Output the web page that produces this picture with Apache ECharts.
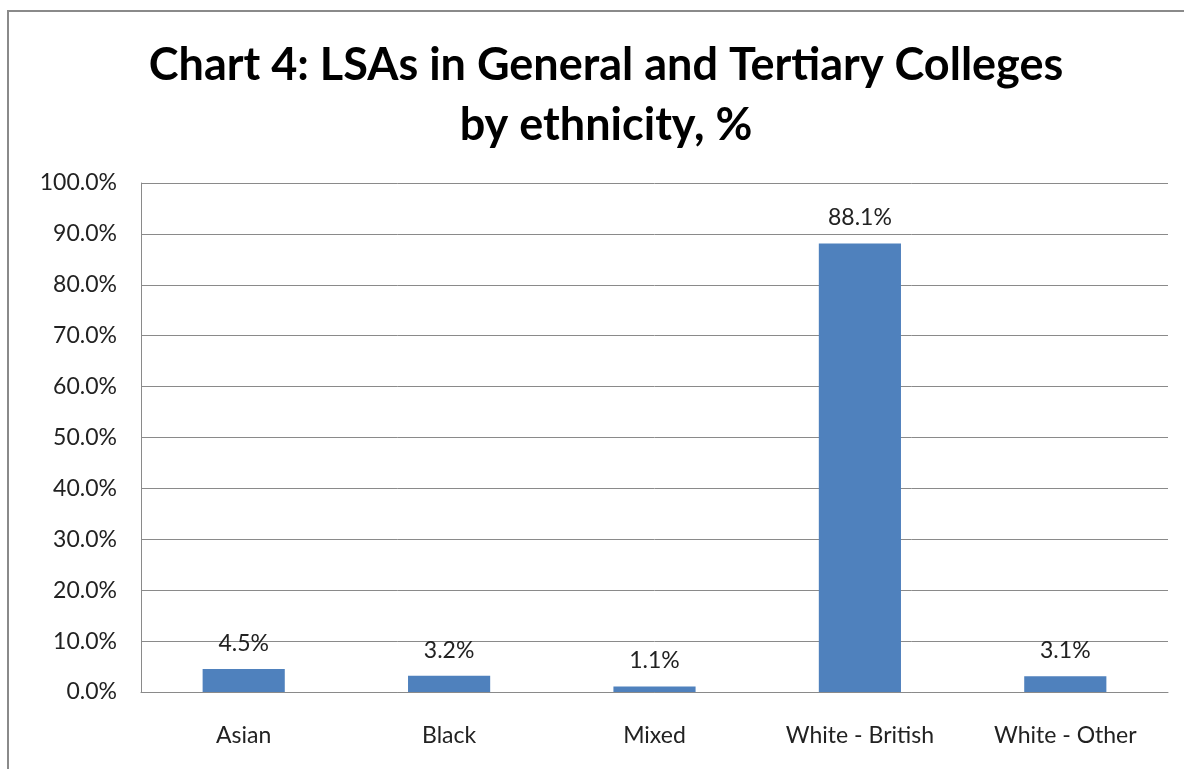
<!DOCTYPE html>
<html><head><meta charset="utf-8">
<script src="https://cdn.jsdelivr.net/npm/echarts@6/dist/echarts.min.js"></script>
<style>html,body{margin:0;padding:0;background:#fff;}#c{width:1184px;height:769px;}</style>
</head><body><div id="c"></div>
<script>
const categories = ['Asian', 'Black', 'Mixed', 'White - British', 'White - Other'];
const values = [4.5, 3.2, 1.1, 88.1, 3.1];
const titleText = 'Chart 4: LSAs in General and Tertiary Colleges\nby ethnicity, %';

const chart = echarts.init(document.getElementById('c'));
chart.setOption({
  animation: false,
  backgroundColor: '#fff',
  graphic: [{
    type: 'rect', shape: {x: 8, y: 11, width: 1200, height: 800},
    style: {fill: 'none', stroke: '#8a8a8a', lineWidth: 2}, silent: true
  }, {
    type: 'text', x: 606, y: 35, silent: true,
    style: {text: titleText, align: 'center', verticalAlign: 'top',
      font: 'bold 45px Lato', fill: '#000', lineHeight: 60}
  }],
  grid: {left: 141, right: 16, top: 183, bottom: 77, containLabel: false},
  xAxis: {
    type: 'category', data: categories,
    axisLine: {lineStyle: {color: '#8a8a8a', width: 1}},
    axisTick: {show: false},
    axisLabel: {fontFamily: 'Lato', fontSize: 23, color: '#222', margin: 32}
  },
  yAxis: {
    type: 'value', min: 0, max: 100, interval: 10,
    axisLine: {show: true, lineStyle: {color: '#8a8a8a', width: 1}},
    axisTick: {show: false},
    splitLine: {lineStyle: {color: '#8a8a8a', width: 1}},
    axisLabel: {fontFamily: 'Lato', fontSize: 23, color: '#222', margin: 24,
      formatter: v => v.toFixed(1) + '%'}
  },
  series: [{
    type: 'bar', data: values, barWidth: '40%',
    itemStyle: {color: '#4f81bd'},
    label: {show: true, position: 'top', distance: 14, fontFamily: 'Lato', fontSize: 23, color: '#222',
      formatter: p => p.value.toFixed(1) + '%'}
  }]
});
</script></body></html>
